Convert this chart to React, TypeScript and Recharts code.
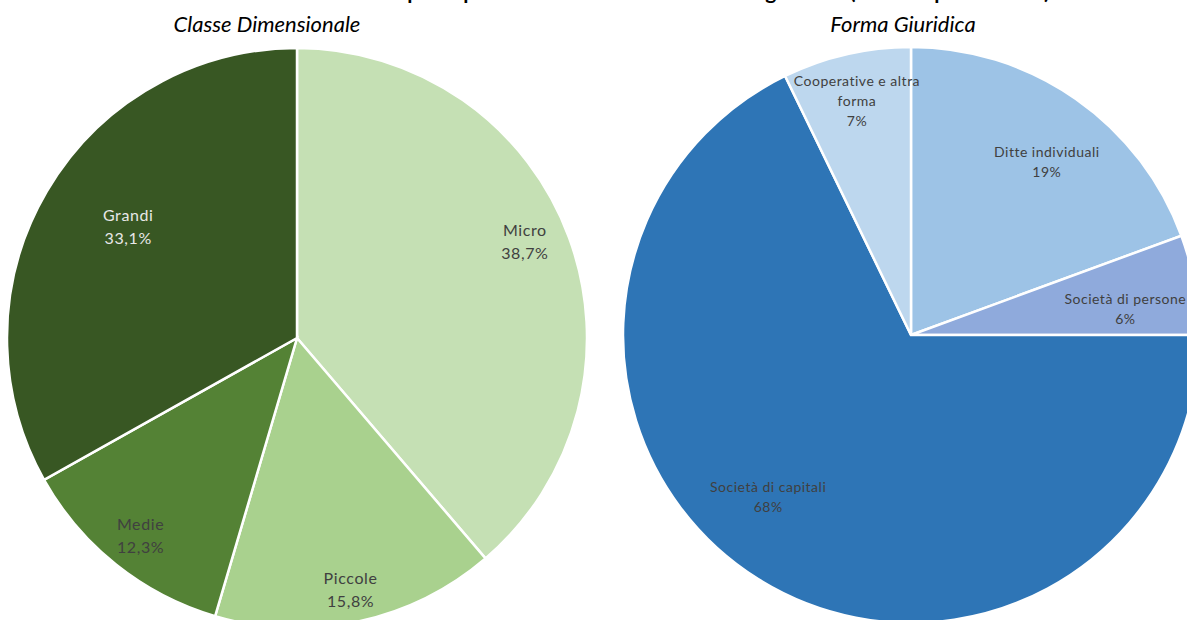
import React from "react";
import { PieChart, Pie, Cell } from "recharts";

// Classe Dimensionale (percentuali)
const classeNames = ["Micro", "Piccole", "Medie", "Grandi"];
const classeValues = [38.7, 15.8, 12.3, 33.1];

// Forma Giuridica (percentuali)
const formaNames = [
  "Ditte individuali",
  "Società di persone",
  "Società di capitali",
  "Cooperative e altra forma",
];
const formaValues = [19.4, 5.6, 67.8, 7.2];

const classeData = classeNames.map((name, i) => ({ name, value: classeValues[i] }));
const formaData = formaNames.map((name, i) => ({ name, value: formaValues[i] }));

const GREENS = ["#c5e0b4", "#a9d18e", "#548235", "#385723"];
const BLUES = ["#9dc3e6", "#8faadc", "#2e75b6", "#bdd7ee"];

// label placement tweaks per slice (distance from centre, angle nudge in degrees)
const classeLabelR = [248, 256, 251, 203];
const classeLabelTurn = [-3, 0, 0, 3.4];
const formaLabelR = [221, 216, 215, 241];
const formaLabelTurn = [3, 3, 9.6, 0];

const RAD = Math.PI / 180;
const FONT = "Lato, 'Open Sans', sans-serif";

const wrap = (s: string, max: number) => {
  if (s.length <= max) return [s];
  const cut = s.lastIndexOf(" ", max);
  return [s.slice(0, cut), s.slice(cut + 1)];
};

const makeLabel =
  (
    radii: number[],
    turns: number[],
    fmt: (v: number) => string,
    size: number,
    spacing: number,
    lh: number,
    colors: string[]
  ) =>
  (props: any) => {
    const { cx, cy, midAngle, index, name, value } = props;
    const r = radii[index];
    const a = midAngle - turns[index];
    const x = cx + r * Math.cos(-a * RAD);
    const y = cy + r * Math.sin(-a * RAD);
    const lines = [...wrap(name, 20), fmt(value)];
    const y0 = y - ((lines.length - 1) * lh) / 2;
    return (
      <text
        key={`lbl-${index}`}
        x={x}
        y={y0}
        textAnchor="middle"
        dominantBaseline="central"
        fontFamily={FONT}
        fontSize={size}
        letterSpacing={spacing}
        fill={colors[index]}
      >
        {lines.map((l, k) => (
          <tspan key={k} x={x} dy={k === 0 ? 0 : lh}>
            {l}
          </tspan>
        ))}
      </text>
    );
  };

const classeLabel = makeLabel(
  classeLabelR,
  classeLabelTurn,
  (v) => v.toFixed(1).replace(".", ",") + "%",
  16,
  0.6,
  23,
  ["#404040", "#404040", "#404040", "#e8e8e8"]
);
const formaLabel = makeLabel(
  formaLabelR,
  formaLabelTurn,
  (v) => Math.round(v) + "%",
  14,
  0.5,
  20,
  ["#404040", "#404040", "#404040", "#404040"]
);

export default function App() {
  return (
    <div
      style={{
        position: "absolute",
        left: 0,
        top: 0,
        width: 1187,
        height: 620,
        overflow: "hidden",
        background: "#fff",
      }}
    >
      <PieChart width={1187} height={620} margin={{ top: 0, right: 0, bottom: 0, left: 0 }}>
        <Pie
          data={classeData}
          dataKey="value"
          nameKey="name"
          cx={297}
          cy={338}
          outerRadius={290}
          startAngle={90}
          endAngle={-270}
          stroke="#fff"
          strokeWidth={2.5}
          label={classeLabel}
          labelLine={false}
          isAnimationActive={false}
        >
          {classeData.map((d, i) => (
            <Cell key={`c-${i}`} fill={GREENS[i]} />
          ))}
        </Pie>
        <Pie
          data={formaData}
          dataKey="value"
          nameKey="name"
          cx={911}
          cy={335}
          outerRadius={288}
          startAngle={90}
          endAngle={-270}
          stroke="#fff"
          strokeWidth={2.5}
          label={formaLabel}
          labelLine={false}
          isAnimationActive={false}
        >
          {formaData.map((d, i) => (
            <Cell key={`f-${i}`} fill={BLUES[i]} />
          ))}
        </Pie>
      </PieChart>
      <svg
        width={1187}
        height={620}
        style={{ position: "absolute", left: 0, top: 0, pointerEvents: "none" }}
      >
        <text
          x={593}
          y={-1}
          textAnchor="middle"
          fontFamily={FONT}
          fontWeight="bold"
          fontSize={21}
          fill="#000"
        >
          Grafico 1 – Fatturato delle imprese per classe dimensionale e forma giuridica (valori in percentuale)
        </text>
        <text x={267} y={32} textAnchor="middle" fontFamily={FONT} fontStyle="italic" fontSize={22} fill="#000">
          Classe Dimensionale
        </text>
        <text x={903} y={32} textAnchor="middle" fontFamily={FONT} fontStyle="italic" fontSize={22} fill="#000">
          Forma Giuridica
        </text>
      </svg>
    </div>
  );
}
